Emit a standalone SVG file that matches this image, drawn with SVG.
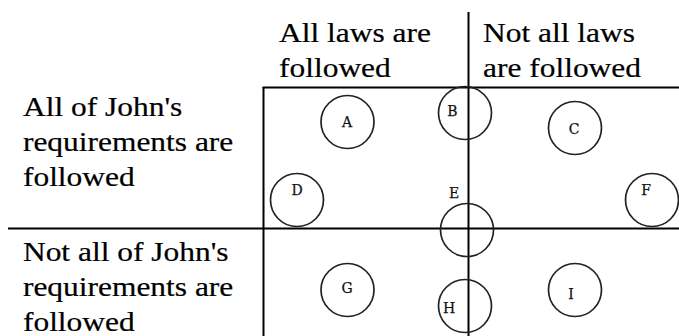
<svg xmlns="http://www.w3.org/2000/svg" width="679" height="336" viewBox="0 0 679 336">
<style>
.lbl{font-family:"Liberation Serif","Times New Roman",serif;font-size:27px;fill:#000;stroke:#000;stroke-width:0.2}
.c{fill:none;stroke:#222;stroke-width:1.7}
.ct{font-family:"DejaVu Serif",serif;font-size:14px;fill:#111;stroke:#111;stroke-width:0.25;text-anchor:middle}
.ln{stroke:#000;stroke-width:2;fill:none}
</style>
<rect width="679" height="336" fill="#fff"/>
<g id="headers" transform="scale(1.165,1)">
<text class="lbl" x="239.5" y="42">All laws are</text>
<text class="lbl" x="239.5" y="77">followed</text>
<text class="lbl" x="414.6" y="42">Not all laws</text>
<text class="lbl" x="414.6" y="77">are followed</text>
<text class="lbl" x="19.7" y="116">All of John's</text>
<text class="lbl" x="19.7" y="151">requirements are</text>
<text class="lbl" x="19.7" y="186">followed</text>
<text class="lbl" x="19.7" y="261">Not all of John's</text>
<text class="lbl" x="19.7" y="296">requirements are</text>
<text class="lbl" x="19.7" y="331">followed</text>
</g>
<g id="grid">
<line class="ln" x1="468.5" y1="12" x2="468.5" y2="336"/>
<line class="ln" x1="263.5" y1="87" x2="263.5" y2="336"/>
<line class="ln" x1="262.5" y1="87.5" x2="679" y2="87.5"/>
<line class="ln" x1="8" y1="228.5" x2="679" y2="228.5"/>
</g>
<g id="nodes">
<g id="A"><circle class="c" cx="347.5" cy="122" r="26.5"/><text class="ct" x="347" y="127">A</text></g>
<g id="B"><circle class="c" cx="465" cy="113" r="26.5"/><text class="ct" x="452.5" y="116">B</text></g>
<g id="C"><circle class="c" cx="575" cy="128" r="26.5"/><text class="ct" x="574" y="134">C</text></g>
<g id="D"><circle class="c" cx="297" cy="200" r="26.5"/><text class="ct" x="297" y="195">D</text></g>
<g id="E"><circle class="c" cx="467" cy="230" r="26.5"/><text class="ct" x="454" y="198">E</text></g>
<g id="F"><circle class="c" cx="652" cy="200" r="26.5"/><text class="ct" x="646" y="195">F</text></g>
<g id="G"><circle class="c" cx="347.5" cy="290" r="26.5"/><text class="ct" x="347" y="293">G</text></g>
<g id="H"><circle class="c" cx="465" cy="306" r="26.5"/><text class="ct" x="449" y="313">H</text></g>
<g id="I"><circle class="c" cx="575" cy="290" r="26.5"/><text class="ct" x="571" y="299">I</text></g>
</g>
</svg>
